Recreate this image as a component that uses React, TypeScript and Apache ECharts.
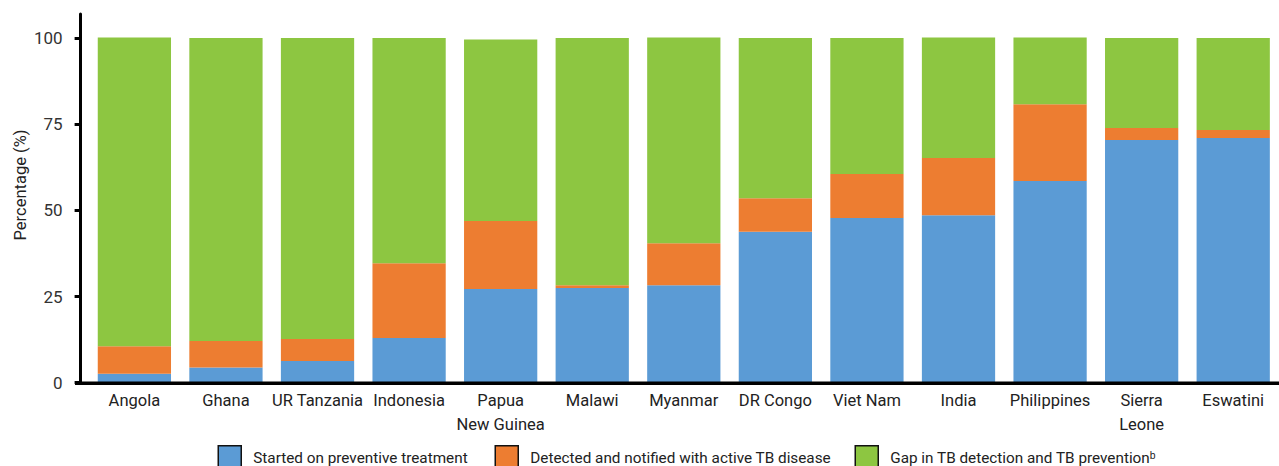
import React, { useEffect, useRef } from "react";
import * as echarts from "echarts";

const categories = [
  "Angola",
  "Ghana",
  "UR Tanzania",
  "Indonesia",
  "Papua\nNew Guinea",
  "Malawi",
  "Myanmar",
  "DR Congo",
  "Viet Nam",
  "India",
  "Philippines",
  "Sierra\nLeone",
  "Eswatini",
];

const startedPreventive = [2.6, 4.4, 6.3, 13.0, 27.2, 27.5, 28.3, 43.8, 47.8, 48.6, 58.5, 70.4, 71.0];
const detectedNotified = [8.0, 7.7, 6.4, 21.7, 19.7, 0.8, 12.2, 9.7, 12.8, 16.6, 22.3, 3.5, 2.3];
const gapDetection = [89.6, 87.9, 87.3, 65.3, 52.7, 71.7, 59.7, 46.5, 39.4, 35.0, 19.4, 26.1, 26.7];

const yTicks = [0, 25, 50, 75, 100];

const seriesNames = [
  "Started on preventive treatment",
  "Detected and notified with active TB disease",
  "Gap in TB detection and TB prevention",
];
const colors = ["#5B9BD5", "#ED7D31", "#8DC641"];

const FONT = "Roboto, 'Liberation Sans', sans-serif";
const TEXT = "#222";

export default function App() {
  const ref = useRef<HTMLDivElement>(null);

  useEffect(() => {
    if (!ref.current) return;
    const chart = echarts.init(ref.current, undefined, { renderer: "svg" });

    const legendBase = {
      top: 445,
      padding: 0,
      orient: "horizontal",
      icon: "rect",
      itemWidth: 23,
      itemHeight: 24,
      selectedMode: false,
      itemStyle: { borderColor: "#111", borderWidth: 1.5 },
      textStyle: { fontFamily: FONT, fontSize: 15.3, color: TEXT, padding: [0, 0, 0, 7] },
    };

    chart.setOption({
      animation: false,
      textStyle: { fontFamily: FONT },
      grid: { left: 88.6, right: -2.4, top: 14, bottom: 83.3, containLabel: false },
      legend: [
        { ...legendBase, left: 217.5, data: [seriesNames[0]] },
        { ...legendBase, left: 494.5, data: [seriesNames[1]] },
        {
          ...legendBase,
          left: 854.5,
          data: [seriesNames[2]],
          formatter: (n: string) => n + "ᵇ",
        },
      ],
      xAxis: {
        type: "category",
        data: categories,
        axisLine: { show: false },
        axisTick: { show: false },
        axisLabel: {
          interval: 0,
          margin: 6,
          fontSize: 16.5,
          lineHeight: 24,
          color: TEXT,
          fontFamily: FONT,
        },
      },
      yAxis: {
        type: "value",
        min: 0,
        max: 107,
        offset: 8,
        splitLine: { show: false },
        axisLine: { show: true, lineStyle: { color: "#000", width: 3 } },
        axisTick: {
          show: true,
          length: 6,
          customValues: yTicks,
          lineStyle: { color: "#000", width: 3 },
        },
        axisLabel: {
          customValues: yTicks,
          margin: 18,
          fontSize: 17,
          color: "#333",
          fontFamily: FONT,
        },
      },
      graphic: [
        {
          type: "line",
          z: 100,
          shape: { x1: 75, y1: 383.2, x2: 1279, y2: 383.2 },
          style: { stroke: "#000", lineWidth: 3.5 },
        },
        {
          type: "text",
          x: 20.5,
          y: 185,
          rotation: Math.PI / 2,
          style: {
            text: "Percentage (%)",
            fontFamily: FONT,
            fontSize: 16.5,
            fill: TEXT,
            align: "center",
            verticalAlign: "middle",
          },
        },
      ],
      series: [startedPreventive, detectedNotified, gapDetection].map((d, i) => ({
        name: seriesNames[i],
        type: "bar",
        stack: "total",
        barWidth: "80%",
        data: d,
        itemStyle: { color: colors[i] },
        emphasis: { disabled: true },
      })),
    });

    return () => chart.dispose();
  }, []);

  return (
    <div
      ref={ref}
      style={{ position: "absolute", left: 0, top: 0, width: 1279, height: 466 }}
    />
  );
}
